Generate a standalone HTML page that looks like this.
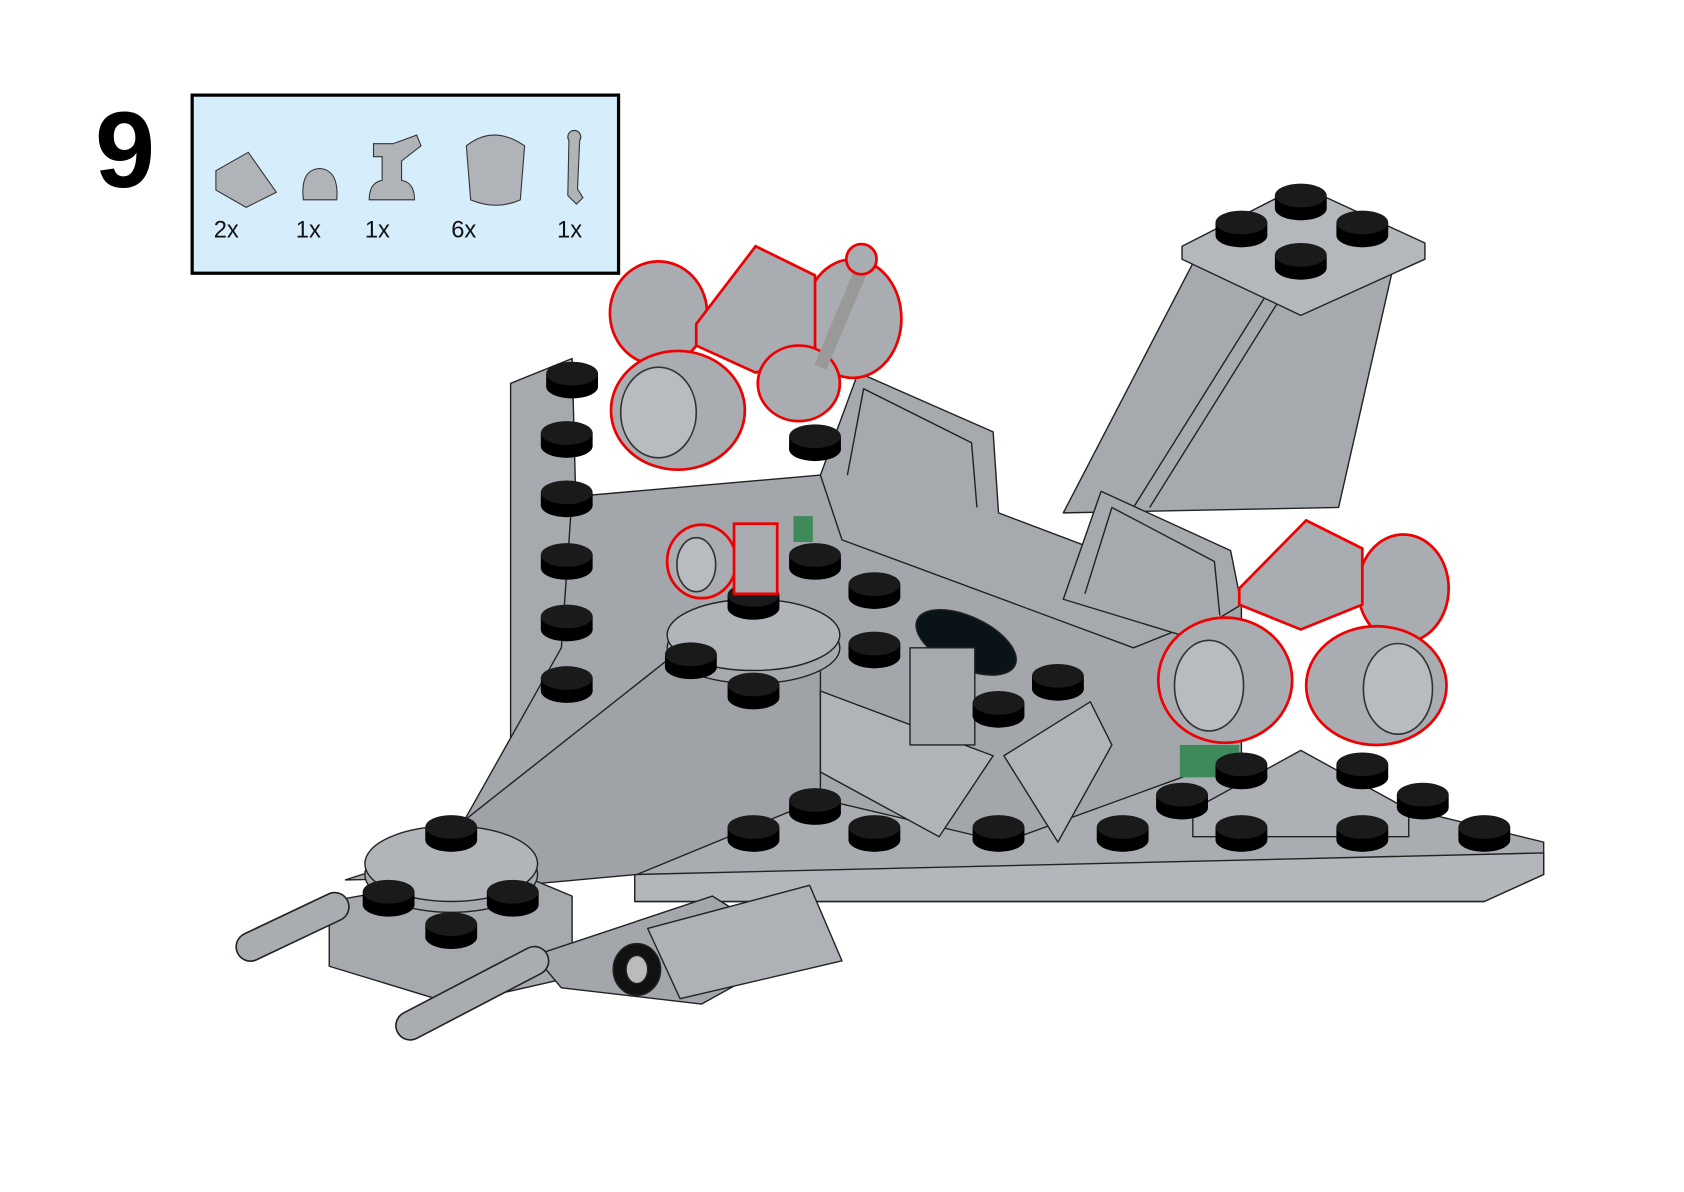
<!DOCTYPE html>
<html><head><style>
html,body{margin:0;padding:0;background:#fff;}
svg{display:block;}
</style></head><body>
<svg width="1684" height="1192" viewBox="0 0 1560 1104" xmlns="http://www.w3.org/2000/svg" font-family="Liberation Sans, sans-serif">
<defs>
<g id="stud"><ellipse cx="0" cy="8" rx="24" ry="11" fill="#000"/><rect x="-24" y="-4" width="48" height="12" fill="#000"/><ellipse cx="0" cy="-4" rx="24" ry="11" fill="#1a1a1a"/></g>
</defs>
<rect width="1560" height="1104" fill="#fff"/>
<text x="88" y="173" font-size="100" font-weight="bold">9</text>
<rect x="178" y="88" width="395" height="165" fill="#d6edfc" stroke="#000" stroke-width="3"/>
<g fill="#b0b3b7" stroke="#333" stroke-width="1">
<polygon points="200,158 230,141 256,178 228,192 200,176"/>
<path d="M281,185 q-3,-28 15,-29 q18,1 16,29 z"/>
<path d="M342,185 q0,-16 12,-18 v-22 h-8 v-12 h18 l22,-8 l4,10 l-18,14 v18 q12,2 12,18 z"/>
<path d="M432,135 q25,-20 54,0 l-4,50 q-22,10 -46,0 z"/>
<path d="M527,130 a6,6 0 1,1 10,0 l-2,45 l5,8 l-6,6 l-8,-8 z"/>
</g>
<g font-size="22" fill="#111"><text x="198" y="220">2x</text><text x="274" y="220">1x</text><text x="338" y="220">1x</text><text x="418" y="220">6x</text><text x="516" y="220">1x</text></g>

<g stroke="#222" stroke-width="1.3" fill="#a6a9ad" stroke-linejoin="round">
<polygon points="1108,238 1290,250 1240,470 985,475"/>
<line x1="1180" y1="262" x2="1050" y2="470"/><line x1="1195" y1="262" x2="1065" y2="470"/>
<polygon points="1095,228 1205,172 1320,225 1320,240 1205,292 1095,240" fill="#b4b7bb"/>
<polygon points="473,355 530,332 540,720 473,740"/>
<polygon points="320,815 860,640 1430,780 1430,810 1375,835 588,835 588,810" fill="#a9acb0"/>
<polygon points="588,810 1430,790 1430,810 1375,835 588,835" fill="#b3b6ba"/>
<polygon points="530,460 760,440 1150,560 1150,700 930,780 760,740 430,760 520,600" fill="#a3a6aa"/>
<polygon points="430,760 620,610 760,600 760,740 590,810 480,820" fill="#9fa2a6"/>
<polygon points="760,640 920,700 870,775 760,715" fill="#b0b3b7"/>
<polygon points="760,440 795,345 920,400 925,475 1150,560 1050,600 780,500"/>
<path d="M785,440 L800,360 L900,410 L905,470" fill="none" stroke-width="1.3"/>
<polygon points="985,555 1020,455 1140,510 1150,560 1100,590" />
<path d="M1005,550 L1030,470 L1125,520 L1130,570" fill="none"/>
<polygon points="930,700 1010,650 1030,690 980,780" fill="#b0b3b7"/>
<polygon points="305,835 470,805 530,830 530,905 420,930 305,895"/>
<polygon points="495,885 660,830 740,880 650,930 520,915" fill="#a3a6aa"/>
<polygon points="600,860 750,820 780,890 630,925" fill="#aeb1b5"/>
<line x1="232" y1="877" x2="310" y2="840" stroke="#222" stroke-width="28" stroke-linecap="round"/>
<line x1="232" y1="877" x2="310" y2="840" stroke="#a9acb0" stroke-width="25" stroke-linecap="round"/>
<line x1="380" y1="950" x2="495" y2="890" stroke="#222" stroke-width="28" stroke-linecap="round"/>
<line x1="380" y1="950" x2="495" y2="890" stroke="#a9acb0" stroke-width="25" stroke-linecap="round"/>
<ellipse cx="418" cy="810" rx="80" ry="35"/>
<ellipse cx="418" cy="800" rx="80" ry="35" fill="#b1b4b8"/>
<ellipse cx="698" cy="600" rx="80" ry="33"/>
<ellipse cx="698" cy="588" rx="80" ry="33" fill="#b1b4b8"/>
<ellipse cx="590" cy="898" rx="22" ry="24" fill="#111"/>
<ellipse cx="590" cy="898" rx="10" ry="13" fill="#bbb"/>
<ellipse cx="895" cy="595" rx="50" ry="24" transform="rotate(25 895 595)" fill="#0a1418"/>
<rect x="843" y="600" width="60" height="90" fill="#a6a9ad"/>
<polygon points="1105,750 1205,695 1305,750 1305,775 1105,775" fill="#adb0b4"/>
<rect x="1093" y="690" width="55" height="30" fill="#3f8a5a" stroke="none"/>
<rect x="735" y="478" width="18" height="24" fill="#3f8a5a" stroke="none"/>
</g>

<g>
<use href="#stud" x="530" y="350"/><use href="#stud" x="525" y="405"/><use href="#stud" x="525" y="460"/><use href="#stud" x="525" y="518"/><use href="#stud" x="525" y="575"/><use href="#stud" x="525" y="632"/>
<use href="#stud" x="755" y="408"/><use href="#stud" x="755" y="518"/><use href="#stud" x="810" y="545"/><use href="#stud" x="810" y="600"/><use href="#stud" x="698" y="555"/><use href="#stud" x="698" y="638"/><use href="#stud" x="640" y="610"/>
<use href="#stud" x="755" y="745"/><use href="#stud" x="698" y="770"/><use href="#stud" x="810" y="770"/><use href="#stud" x="925" y="770"/><use href="#stud" x="1040" y="770"/><use href="#stud" x="1150" y="770"/><use href="#stud" x="1262" y="770"/><use href="#stud" x="1375" y="770"/>
<use href="#stud" x="980" y="630"/><use href="#stud" x="925" y="655"/><use href="#stud" x="1095" y="740"/><use href="#stud" x="1150" y="712"/><use href="#stud" x="1262" y="712"/><use href="#stud" x="1318" y="740"/>
<use href="#stud" x="360" y="830"/><use href="#stud" x="475" y="830"/><use href="#stud" x="418" y="860"/><use href="#stud" x="418" y="770"/>
<use href="#stud" x="1150" y="210"/><use href="#stud" x="1262" y="210"/><use href="#stud" x="1205" y="185"/><use href="#stud" x="1205" y="240"/>
</g>

<g fill="#a9acb0" stroke="#e00" stroke-width="2.5">
<ellipse cx="610" cy="290" rx="45" ry="48"/>
<ellipse cx="790" cy="295" rx="45" ry="55"/>
<polygon points="645,300 700,228 755,255 755,330 700,345 645,320"/>
<ellipse cx="628" cy="380" rx="62" ry="55"/>
<ellipse cx="740" cy="355" rx="38" ry="35"/>
<line x1="760" y1="340" x2="800" y2="245" stroke="#999" stroke-width="12"/>
<circle cx="798" cy="240" r="14"/>
<ellipse cx="1300" cy="545" rx="42" ry="50"/>
<polygon points="1148,545 1210,482 1262,508 1262,560 1205,583 1148,560"/>
<ellipse cx="1135" cy="630" rx="62" ry="58"/>
<ellipse cx="1275" cy="635" rx="65" ry="55"/>
<ellipse cx="650" cy="520" rx="32" ry="34"/>
<rect x="680" y="485" width="40" height="65"/>
</g>
<g fill="#b8bbbf" stroke="#333" stroke-width="1.5">
<ellipse cx="610" cy="382" rx="35" ry="42"/><ellipse cx="1120" cy="635" rx="32" ry="42"/><ellipse cx="1295" cy="638" rx="32" ry="42"/><ellipse cx="645" cy="523" rx="18" ry="25"/>
</g>
</svg>
</body></html>
